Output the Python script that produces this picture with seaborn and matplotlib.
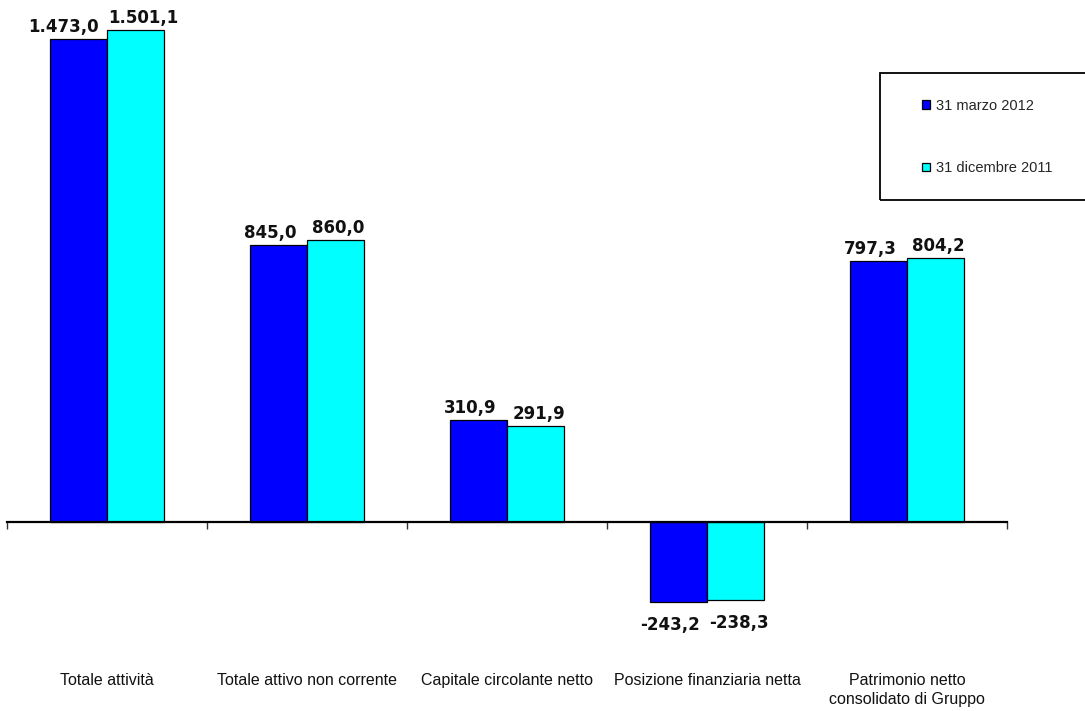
import matplotlib
matplotlib.use("Agg")
import matplotlib.pyplot as plt
import matplotlib.patches as mpatches
import matplotlib.transforms as mtransforms
import seaborn as sns
import pandas as pd

categories = ["Totale attività", "Totale attivo non corrente", "Capitale circolante netto",
              "Posizione finanziaria netta", "Patrimonio netto\nconsolidato di Gruppo"]
series_names = ["31 marzo 2012", "31 dicembre 2011"]
values_mar2012 = [1473.0, 845.0, 310.9, -243.2, 797.3]
values_dic2011 = [1501.1, 860.0, 291.9, -238.3, 804.2]
colors = ["#0000FF", "#00FFFF"]

def fmt(v):
    s = f"{v:,.1f}"
    return s.replace(",", "X").replace(".", ",").replace("X", ".")

df = pd.DataFrame({
    "cat": categories * 2,
    "serie": [series_names[0]] * 5 + [series_names[1]] * 5,
    "val": values_mar2012 + values_dic2011,
})

sns.set_theme(style="white")
plt.rcParams["font.family"] = ["Liberation Sans", "DejaVu Sans"]

W, H = 1085, 711
PT = 72 / 100  # points per pixel
fig = plt.figure(figsize=(W / 100, H / 100), dpi=100)
# axes pixel bounds: x 7..1007, y 10..650
ax = fig.add_axes([7 / W, 1 - 650 / H, 1000 / W, 640 / H])

sns.barplot(data=df, x="cat", y="val", hue="serie", order=categories,
            hue_order=series_names, palette=colors, saturation=1,
            width=0.57, edgecolor="black", linewidth=0.9, ax=ax)

ppu = 492 / 1501.1
ymax = (522 - 10) / ppu
ymin = -(650 - 522) / ppu
ax.set_ylim(ymin, ymax)
ax.set_xlim(-0.5, 4.5)

for sp in ["left", "right", "top"]:
    ax.spines[sp].set_visible(False)
ax.spines["bottom"].set_position(("data", 0))
ax.spines["bottom"].set_color("black")
ax.spines["bottom"].set_linewidth(1.6)
ax.set_yticks([])
ax.set_xticks([i - 0.5 for i in range(6)])
ax.set_xticklabels([])
ax.tick_params(axis="x", direction="out", length=5, width=1.0, color="#333333", bottom=True)
ax.set_xlabel("")
ax.set_ylabel("")

# value labels
label_font = dict(fontsize=12, fontweight="bold", color="#111111", family="DejaVu Sans")
base_dx = [-8 * PT, 3 * PT]
anns = []
for si, cont in enumerate(ax.containers):
    row = []
    for bar in cont:
        h = bar.get_height()
        xc = bar.get_x() + bar.get_width() / 2
        dy = 7 * PT if h >= 0 else -28 * PT
        a = ax.annotate(fmt(h), (xc, h), xytext=(base_dx[si], dy), textcoords="offset points",
                        ha="center", va="baseline", **label_font)
        row.append(a)
    anns.append(row)

# push apart overlapping labels within a group
fig.canvas.draw()
r = fig.canvas.get_renderer()
min_gap = 9
for a1, a2 in zip(anns[0], anns[1]):
    b1 = a1.get_window_extent(r)
    b2 = a2.get_window_extent(r)
    gap = b2.x0 - b1.x1
    if gap < min_gap:
        need = min_gap - gap
        x1, y1 = a1.xyann
        x2, y2 = a2.xyann
        a1.xyann = (x1 - need * 0.6 * PT, y1)
        a2.xyann = (x2 + need * 0.4 * PT, y2)

# category labels
trans = mtransforms.blended_transform_factory(ax.transData, fig.transFigure)
for i, c in enumerate(categories):
    ax.text(i, 1 - 673 / H, c, transform=trans, ha="center", va="top",
            fontsize=11.5, color="#111111", linespacing=1.35)

# legend
handles, labels = ax.get_legend_handles_labels()
if ax.get_legend() is not None:
    ax.get_legend().remove()
frame = mpatches.Rectangle((880 / W, 1 - 200 / H), 220 / W, 127 / H, transform=fig.transFigure,
                           fill=False, edgecolor="black", linewidth=1.3)
fig.patches.append(frame)
leg = fig.legend(handles, labels, loc="upper left", bbox_to_anchor=(922 / W, 1 - 98.5 / H),
                 frameon=False, fontsize=10.5, handlelength=0.55, handleheight=0.55,
                 handletextpad=0.4, labelspacing=3.33, borderpad=0, borderaxespad=0)

fig.savefig("out.png", dpi=100)
